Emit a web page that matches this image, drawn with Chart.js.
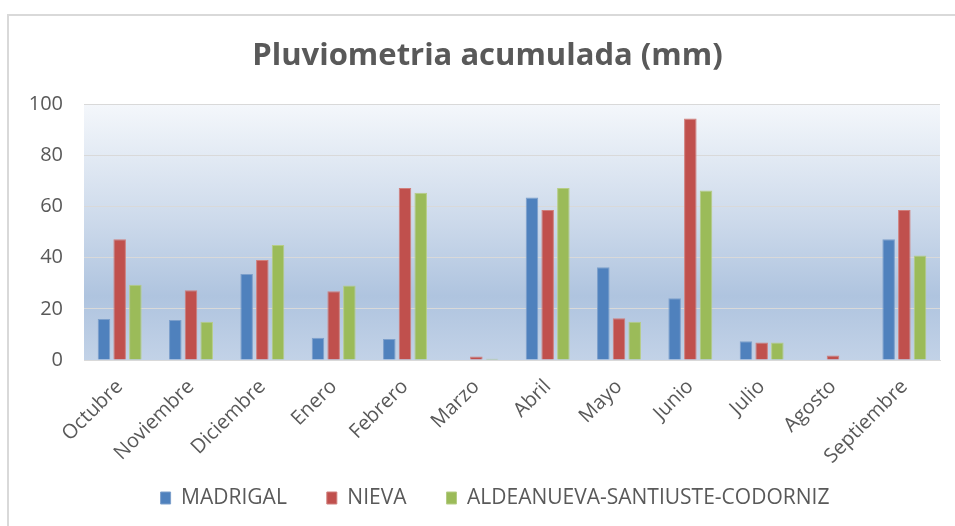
<!DOCTYPE html>
<html>
<head>
<meta charset="utf-8">
<script src="https://cdn.jsdelivr.net/npm/chart.js@4/dist/chart.umd.min.js"></script>
<style>
  html, body { margin: 0; padding: 0; background: #fff; overflow: hidden; }
  #frame {
    position: absolute; left: 7px; top: 14px; width: 980px; height: 560px;
    border-left: 2px solid #d9d9d9; border-top: 2px solid #d9d9d9;
  }
  #box { position: absolute; left: 0; top: 0; width: 955px; height: 526px; }
</style>
</head>
<body>
<div id="frame"></div>
<div id="box"><canvas id="chart-pluvio"></canvas></div>
<script>
// ── Datos (mm) ───────────────────────────────────────────────────────────────
const MESES = ['Octubre','Noviembre','Diciembre','Enero','Febrero','Marzo',
               'Abril','Mayo','Junio','Julio','Agosto','Septiembre'];
const MADRIGAL   = [16.0, 15.6, 33.6,  8.7,  8.2, 0,   63.5, 36.3, 24.1, 7.3, 0,   47.2];
const NIEVA      = [47.2, 27.3, 39.1, 26.9, 67.2, 1.4, 58.6, 16.3, 94.4, 6.8, 1.8, 58.6];
const ALDEANUEVA = [29.4, 15.0, 45.0, 29.1, 65.4, 0.5, 67.2, 15.0, 66.3, 6.8, 0,   40.9];
const Y_TICKS    = [0, 20, 40, 60, 80, 100];

const TXT  = '#595959';
const GRID = '#d9d9d9';
const FONT = "'Open Sans', sans-serif";

// fondo degradado del área de trazado (estilo Excel)
const plotBg = {
  id: 'plotBg',
  beforeDraw(chart) {
    const { ctx, chartArea: a } = chart;
    const g = ctx.createLinearGradient(0, a.top, 0, a.bottom);
    g.addColorStop(0,    '#f4f7fb');
    g.addColorStop(0.45, '#cddaeb');
    g.addColorStop(0.75, '#afc4df');
    g.addColorStop(1,    '#c2d2e7');
    ctx.save();
    ctx.fillStyle = g;
    ctx.fillRect(a.left, a.top, a.right - a.left, a.bottom - a.top);
    ctx.restore();
  }
};

// título y leyenda del original van algo más a la derecha; leyenda más arriba
const boxShift = {
  id: 'boxShift',
  afterLayout(chart) {
    chart.titleBlock.left += 35;
    chart.legend.left += 50;
    chart.legend.top = 447.5;
  }
};

const mkSet = (label, data, color, edge) => ({
  label, data,
  backgroundColor: color,
  borderColor:     edge,
  borderWidth:     1,
  categoryPercentage: 0.66,
  barPercentage:      0.8,
});

new Chart(document.getElementById('chart-pluvio'), {
  type: 'bar',
  data: {
    labels: MESES,
    datasets: [
      mkSet('MADRIGAL',   MADRIGAL,   '#4f81bd', '#7c9fcb'),
      mkSet('NIEVA',      NIEVA,      '#c0504d', '#d07f7c'),
      mkSet('ALDEANUEVA-SANTIUSTE-CODORNIZ', ALDEANUEVA, '#9bbb59', '#b6cd86'),
    ]
  },
  plugins: [plotBg, boxShift],
  options: {
    responsive: true,
    maintainAspectRatio: false,
    animation: false,
    layout: { padding: { left: 0, right: 15, top: 0, bottom: 6 } },
    plugins: {
      title: {
        display: true,
        text: 'Pluviometria acumulada (mm)',
        color: TXT,
        font: { family: FONT, size: 31, weight: 'bold' },
        padding: { top: 38, bottom: 29 },
      },
      legend: {
        position: 'bottom',
        maxHeight: 50,
        labels: {
          color: TXT,
          font: { family: FONT, size: 21 },
          boxWidth: 10, boxHeight: 12,
          padding: 40,
        }
      },
      tooltip: { enabled: false },
    },
    scales: {
      x: {
        grid: { display: false, drawTicks: false },
        border: { color: GRID, width: 1 },
        ticks: {
          color: TXT,
          font: { family: FONT, size: 20 },
          minRotation: 45, maxRotation: 45,
          padding: 15,
        },
        afterFit: s => { s.height = 110; },
      },
      y: {
        min: 0, max: 100,
        afterBuildTicks: s => { s.ticks = Y_TICKS.map(v => ({ value: v })); },
        grid: { color: GRID, lineWidth: 1, drawTicks: false },
        border: { display: false },
        ticks: {
          color: TXT,
          font: { family: FONT, size: 20 },
          padding: 21,
        },
        afterFit: s => { s.width = 84; },
      }
    }
  }
});
</script>
</body>
</html>
